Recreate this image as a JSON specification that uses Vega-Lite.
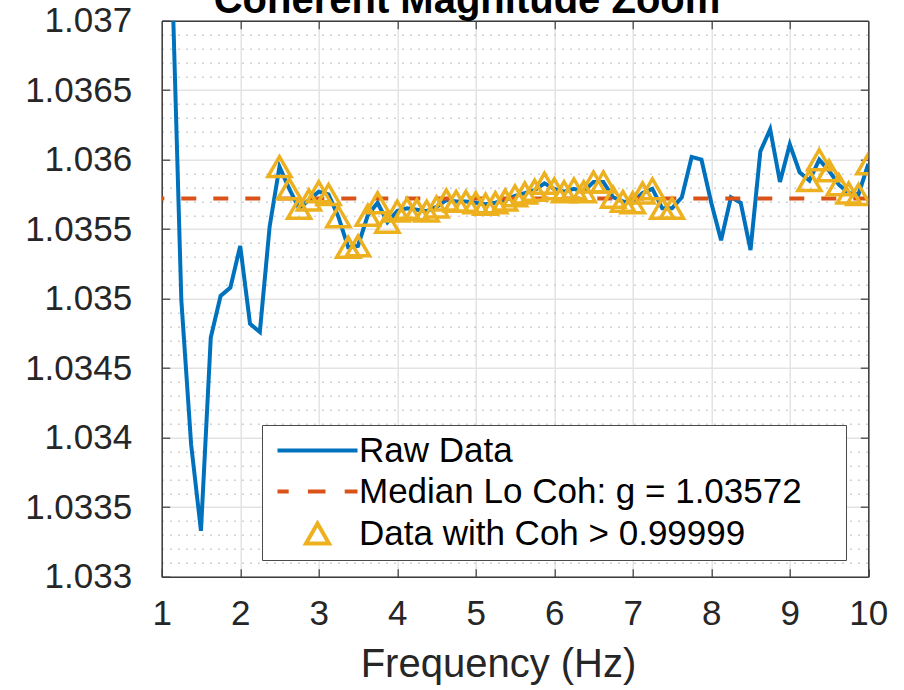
{
  "$schema": "https://vega.github.io/schema/vega-lite/v6.json",
  "width": 706.6,
  "height": 556,
  "autosize": {"type": "none"},
  "padding": {"left": 161.7, "top": 20.7, "right": 35.7, "bottom": 113.3},
  "background": "white",
  "config": {
    "view": {"stroke": null},
    "font": "Liberation Sans",
    "axis": {
      "domainColor": "#3c3c3c",
      "domainWidth": 1.5,
      "tickColor": "#3c3c3c",
      "tickWidth": 1.2,
      "tickSize": -8,
      "labelFont": "Liberation Sans",
      "labelFontSize": 35,
      "labelColor": "#262626",
      "labelFlush": false,
      "labelOverlap": false,
      "titleFont": "Liberation Sans"
    }
  },
  "data": {
    "values": [
      {"f": 1.125, "g": 1.03746, "hi": false},
      {"f": 1.25, "g": 1.03499, "hi": false},
      {"f": 1.375, "g": 1.03395, "hi": false},
      {"f": 1.5, "g": 1.03333, "hi": false},
      {"f": 1.625, "g": 1.03472, "hi": false},
      {"f": 1.75, "g": 1.03502, "hi": false},
      {"f": 1.875, "g": 1.03508, "hi": false},
      {"f": 2.0, "g": 1.03538, "hi": false},
      {"f": 2.125, "g": 1.03482, "hi": false},
      {"f": 2.25, "g": 1.03476, "hi": false},
      {"f": 2.375, "g": 1.03552, "hi": false},
      {"f": 2.5, "g": 1.03595, "hi": true},
      {"f": 2.625, "g": 1.03579, "hi": true},
      {"f": 2.75, "g": 1.03565, "hi": true},
      {"f": 2.875, "g": 1.03571, "hi": true},
      {"f": 3.0, "g": 1.03577, "hi": true},
      {"f": 3.125, "g": 1.03575, "hi": true},
      {"f": 3.25, "g": 1.03559, "hi": true},
      {"f": 3.375, "g": 1.03537, "hi": true},
      {"f": 3.5, "g": 1.03538, "hi": true},
      {"f": 3.625, "g": 1.0356, "hi": true},
      {"f": 3.75, "g": 1.03569, "hi": true},
      {"f": 3.875, "g": 1.03555, "hi": true},
      {"f": 4.0, "g": 1.03563, "hi": true},
      {"f": 4.125, "g": 1.03565, "hi": true},
      {"f": 4.25, "g": 1.03564, "hi": true},
      {"f": 4.375, "g": 1.03563, "hi": true},
      {"f": 4.5, "g": 1.03566, "hi": true},
      {"f": 4.625, "g": 1.03571, "hi": true},
      {"f": 4.75, "g": 1.0357, "hi": true},
      {"f": 4.875, "g": 1.0357, "hi": true},
      {"f": 5.0, "g": 1.03569, "hi": true},
      {"f": 5.125, "g": 1.03568, "hi": true},
      {"f": 5.25, "g": 1.03569, "hi": true},
      {"f": 5.375, "g": 1.03571, "hi": true},
      {"f": 5.5, "g": 1.03574, "hi": true},
      {"f": 5.625, "g": 1.03576, "hi": true},
      {"f": 5.75, "g": 1.03578, "hi": true},
      {"f": 5.875, "g": 1.03583, "hi": true},
      {"f": 6.0, "g": 1.03579, "hi": true},
      {"f": 6.125, "g": 1.03577, "hi": true},
      {"f": 6.25, "g": 1.03579, "hi": true},
      {"f": 6.375, "g": 1.03577, "hi": true},
      {"f": 6.5, "g": 1.03584, "hi": true},
      {"f": 6.625, "g": 1.03584, "hi": true},
      {"f": 6.75, "g": 1.03573, "hi": true},
      {"f": 6.875, "g": 1.0357, "hi": true},
      {"f": 7.0, "g": 1.03569, "hi": true},
      {"f": 7.125, "g": 1.03576, "hi": true},
      {"f": 7.25, "g": 1.03579, "hi": true},
      {"f": 7.375, "g": 1.03565, "hi": true},
      {"f": 7.5, "g": 1.03565, "hi": true},
      {"f": 7.625, "g": 1.03573, "hi": false},
      {"f": 7.75, "g": 1.03602, "hi": false},
      {"f": 7.875, "g": 1.036, "hi": false},
      {"f": 8.0, "g": 1.03569, "hi": false},
      {"f": 8.125, "g": 1.03542, "hi": false},
      {"f": 8.25, "g": 1.03573, "hi": false},
      {"f": 8.375, "g": 1.03569, "hi": false},
      {"f": 8.5, "g": 1.03535, "hi": false},
      {"f": 8.625, "g": 1.03606, "hi": false},
      {"f": 8.75, "g": 1.03622, "hi": false},
      {"f": 8.875, "g": 1.03584, "hi": false},
      {"f": 9.0, "g": 1.03611, "hi": false},
      {"f": 9.125, "g": 1.03591, "hi": false},
      {"f": 9.25, "g": 1.03585, "hi": true},
      {"f": 9.375, "g": 1.036, "hi": true},
      {"f": 9.5, "g": 1.03592, "hi": true},
      {"f": 9.625, "g": 1.03582, "hi": true},
      {"f": 9.75, "g": 1.03576, "hi": true},
      {"f": 9.875, "g": 1.03575, "hi": true},
      {"f": 10.0, "g": 1.03597, "hi": true}
    ]
  },
  "layer": [
    {
      "mark": {"type": "line", "color": "#0072BD", "strokeWidth": 4, "clip": true},
      "encoding": {
        "x": {
          "field": "f", "type": "quantitative",
          "scale": {"domain": [1, 10], "nice": false, "zero": false},
          "axis": {
            "orient": "bottom",
            "values": [1, 2, 3, 4, 5, 6, 7, 8, 9, 10],
            "title": "Frequency (Hz)",
            "grid": true,
            "gridColor": "#e3e3e3",
            "gridWidth": 1.5,
            "labelPadding": 28,
            "titleFontSize": 40,
            "titleFontWeight": "normal",
            "titleColor": "#262626",
            "titleX": 336.3,
            "titleY": 99.3,
            "titleAlign": "center",
            "titleBaseline": "alphabetic"
          }
        },
        "y": {
          "field": "g", "type": "quantitative",
          "scale": {"domain": [1.033, 1.037], "nice": false, "zero": false},
          "axis": {
            "orient": "left",
            "title": null,
            "values": [1.033, 1.0331, 1.0332, 1.0333, 1.0334, 1.0335, 1.0336, 1.0337, 1.0338, 1.0339,
                       1.034, 1.0341, 1.0342, 1.0343, 1.0344, 1.0345, 1.0346, 1.0347, 1.0348, 1.0349,
                       1.035, 1.0351, 1.0352, 1.0353, 1.0354, 1.0355, 1.0356, 1.0357, 1.0358, 1.0359,
                       1.036, 1.0361, 1.0362, 1.0363, 1.0364, 1.0365, 1.0366, 1.0367, 1.0368, 1.0369, 1.037],
            "labelExpr": "abs(datum.value*2000 - round(datum.value*2000)) < 0.001 ? format(datum.value, '.4~f') : ''",
            "labelPadding": 38,
            "grid": true,
            "gridColor": {"condition": {"test": "abs(datum.value*2000 - round(datum.value*2000)) < 0.001", "value": "#e3e3e3"}, "value": "#c2c2c2"},
            "gridDash": {"condition": {"test": "abs(datum.value*2000 - round(datum.value*2000)) < 0.001", "value": []}, "value": [1.5, 6.5]},
            "gridWidth": 1.5,
            "tickOpacity": {"condition": {"test": "abs(datum.value*2000 - round(datum.value*2000)) < 0.001", "value": 1}, "value": 0}
          }
        }
      }
    },
    {
      "data": {"values": [{"median": 1.03572}]},
      "mark": {"type": "rule", "color": "#D95319", "strokeWidth": 4, "strokeDash": [15, 17]},
      "encoding": {
        "y": {
          "field": "median", "type": "quantitative",
          "scale": {"domain": [1.033, 1.037], "nice": false, "zero": false},
          "axis": {
            "orient": "right",
            "title": null,
            "labels": false,
            "grid": false,
            "values": [1.0335, 1.034, 1.0345, 1.035, 1.0355, 1.036, 1.0365]
          }
        }
      }
    },
    {
      "transform": [{"filter": "datum.hi"}],
      "mark": {"type": "point", "filled": false, "size": 400, "strokeWidth": 3.5, "opacity": 1, "clip": true},
      "encoding": {
        "x": {
          "field": "f", "type": "quantitative",
          "scale": {"domain": [1, 10], "nice": false, "zero": false},
          "axis": {
            "orient": "top",
            "title": "Coherent Magnitude Zoom",
            "titleFontSize": 40,
            "titleFontWeight": "bold",
            "titleColor": "#000000",
            "titleX": 304.8,
            "titleY": -8.7,
            "titleAlign": "center",
            "titleBaseline": "alphabetic",
            "labels": false,
            "grid": false,
            "values": [2, 3, 4, 5, 6, 7, 8, 9]
          }
        },
        "y": {
          "field": "g", "type": "quantitative",
          "scale": {"domain": [1.033, 1.037], "nice": false, "zero": false},
          "axis": null
        },
        "stroke": {
          "datum": "Data with Coh > 0.99999",
          "scale": {
            "domain": ["Raw Data", "Median Lo Coh: g = 1.03572", "Data with Coh > 0.99999"],
            "range": ["#0072BD", "#D95319", "#EDB120"]
          },
          "legend": {
            "orient": "none",
            "legendX": 100.3,
            "legendY": 404.3,
            "title": null,
            "padding": 8,
            "strokeColor": "#4a4a4a",
            "fillColor": "white",
            "labelFontSize": 35,
            "labelFont": "Liberation Sans",
            "labelColor": "#000000",
            "labelLimit": 1000,
            "labelOffset": 24,
            "symbolSize": 400,
            "symbolOffset": 30,
            "symbolStrokeWidth": 4,
            "symbolFillColor": "transparent",
            "rowPadding": 5,
            "encode": {"legend": {"update": {"strokeWidth": {"value": 1.5}}}}
          }
        },
        "shape": {
          "datum": "Data with Coh > 0.99999",
          "scale": {
            "domain": ["Raw Data", "Median Lo Coh: g = 1.03572", "Data with Coh > 0.99999"],
            "range": ["M-4,0L4,0M51.2,0", "M-4,0L-2.88,0M-0.96,0L0.8,0M2.72,0L4,0", "M-1.15,0.996L1.15,0.996L0,-0.996Z"]
          }
        }
      }
    }
  ],
  "resolve": {"axis": {"x": "independent", "y": "independent"}}
}
